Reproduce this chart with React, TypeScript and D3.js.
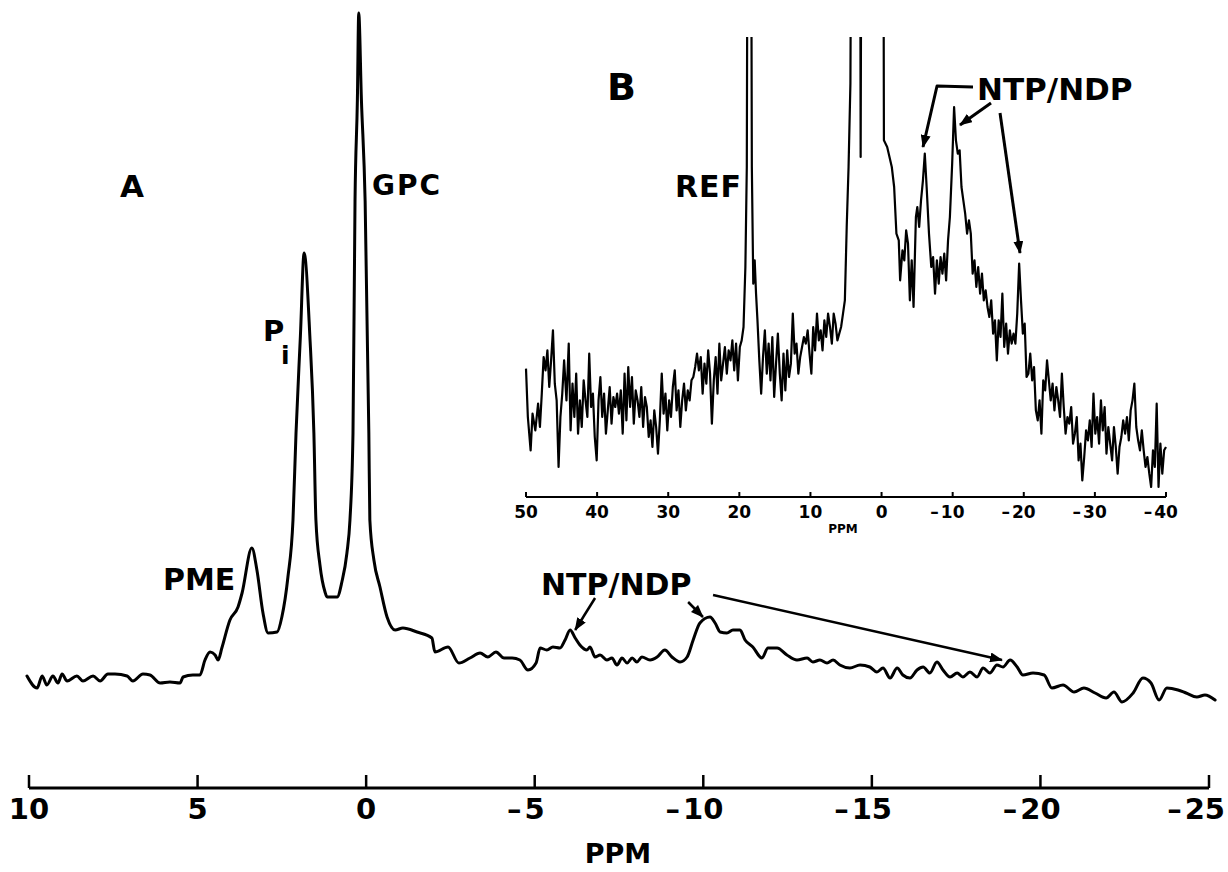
import React from "react";
import * as d3 from "d3";

// ---------- Spectrum A (main) : chemical shift (ppm) and intensity (a.u.) ----------
const mainPpm = [
  10.06, 9.76, 9.61, 9.47, 9.29, 9.14, 9.02, 8.87, 8.58, 8.40, 8.10, 7.89, 7.66, 7.45, 7.09, 6.92, 6.62, 6.41, 6.11, 5.82,
  5.52, 5.43, 5.14, 4.93, 4.78, 4.63, 4.48, 4.39, 4.28, 4.04, 3.80, 3.68, 3.39, 3.24, 3.06, 2.91, 2.64, 2.50, 2.32, 2.17,
  2.08, 1.95, 1.84, 1.67, 1.55, 1.49, 1.37, 1.22, 1.16, 0.86, 0.72, 0.57, 0.48, 0.39, 0.33, 0.26, 0.22, 0.14, 0.03, -0.08,
  -0.11, -0.23, -0.41, -0.62, -0.86, -1.09, -1.51, -1.95, -2.04, -2.43, -2.75, -3.08, -3.38, -3.61, -3.85, -4.09, -4.33, -4.56, -4.80, -5.04,
  -5.16, -5.36, -5.54, -5.75, -5.90, -6.05, -6.20, -6.34, -6.55, -6.64, -6.79, -6.94, -7.14, -7.29, -7.44, -7.59, -7.74, -7.89, -8.03, -8.18,
  -8.42, -8.63, -8.86, -9.07, -9.31, -9.52, -9.70, -9.90, -10.20, -10.35, -10.50, -10.70, -10.88, -11.09, -11.24, -11.47, -11.74, -11.92, -12.19, -12.48,
  -12.78, -13.08, -13.25, -13.46, -13.67, -13.85, -14.05, -14.35, -14.65, -14.94, -15.15, -15.33, -15.54, -15.75, -15.92, -16.13, -16.34, -16.52, -16.72, -16.93,
  -17.11, -17.32, -17.53, -17.70, -17.91, -18.12, -18.30, -18.50, -18.71, -18.89, -19.10, -19.31, -19.48, -19.78, -20.11, -20.34, -20.67, -21.00, -21.29, -21.62,
  -21.95, -22.18, -22.42, -22.75, -23.04, -23.28, -23.52, -23.75, -24.08, -24.32, -24.64, -24.88, -25.18,
];
const mainIntensity = [
  24, 12, 24, 15, 24, 17, 26, 19, 24, 19, 24, 19, 26, 26, 24, 19, 26, 25, 17, 18,
  17, 23, 25, 25, 40, 48, 45, 40, 52, 80, 93, 107, 152, 130, 87, 67, 68, 83, 123, 180,
  267, 364, 447, 364, 267, 180, 135, 108, 103, 103, 118, 147, 180, 267, 499, 600, 687, 600, 499, 267,
  180, 140, 113, 83, 70, 72, 68, 62, 48, 53, 37, 42, 47, 43, 48, 42, 42, 40, 30, 37,
  52, 50, 53, 52, 60, 70, 62, 55, 50, 53, 43, 45, 40, 42, 35, 42, 37, 42, 38, 43,
  40, 43, 50, 43, 38, 43, 60, 77, 83, 77, 68, 67, 70, 70, 60, 53, 42, 52, 52, 45,
  40, 42, 38, 40, 37, 40, 35, 32, 35, 33, 28, 32, 22, 32, 25, 22, 30, 33, 27, 38,
  30, 23, 27, 23, 28, 23, 32, 27, 35, 33, 40, 33, 25, 27, 25, 12, 15, 8, 12, 7,
  2, 8, -2, 7, 22, 17, 0, 12, 10, 7, 3, 5, 0,
];
const mainTicks = [10, 5, 0, -5, -10, -15, -20, -25];

// ---------- Spectrum B (inset) ----------
const insetPpm = [
  50.00, 49.74, 49.35, 49.08, 48.69, 48.30, 48.04, 47.78, 47.52, 47.25, 46.99, 46.73, 46.47, 46.21, 45.95, 45.69, 45.42, 45.16, 44.90, 44.64,
  44.31, 43.99, 43.73, 43.46, 43.20, 42.94, 42.68, 42.42, 42.16, 41.89, 41.63, 41.37, 41.11, 40.85, 40.59, 40.33, 40.06, 39.80, 39.54, 39.28,
  39.02, 38.76, 38.50, 38.23, 37.97, 37.71, 37.45, 37.19, 36.93, 36.67, 36.40, 36.14, 35.88, 35.62, 35.36, 35.10, 34.84, 34.57, 34.31, 34.05,
  33.79, 33.53, 33.27, 33.01, 32.74, 32.48, 32.22, 31.96, 31.70, 31.44, 31.18, 30.91, 30.65, 30.39, 30.13, 29.87, 29.61, 29.35, 29.08, 28.82,
  28.56, 28.30, 28.04, 27.78, 27.52, 27.25, 26.99, 26.73, 26.47, 26.21, 25.95, 25.69, 25.42, 25.16, 24.90, 24.64, 24.38, 24.12, 23.86, 23.59,
  23.33, 23.07, 22.81, 22.55, 22.29, 22.03, 21.76, 21.50, 21.24, 20.98, 20.72, 20.46, 20.20, 19.93, 19.67, 19.41, 19.15, 18.95, 18.76, 18.43,
  18.24, 18.04, 17.84, 17.65, 17.45, 17.19, 16.93, 16.67, 16.41, 16.14, 15.88, 15.62, 15.36, 15.10, 14.84, 14.58, 14.31, 14.05, 13.79, 13.53,
  13.27, 13.01, 12.75, 12.48, 12.22, 11.96, 11.70, 11.44, 11.18, 10.92, 10.65, 10.39, 10.13, 9.87, 9.61, 9.35, 9.08, 8.82, 8.56, 8.30,
  8.04, 7.78, 7.52, 7.25, 6.99, 6.73, 6.47, 6.21, 5.95, 5.69, 5.42, 5.16, 4.90, 4.64, 4.38, 4.12, 3.33, 3.07, 2.94, 2.75,
  2.55, -0.20, -0.33, -0.79, -1.44, -1.77, -2.09, -2.42, -2.61, -2.94, -3.20, -3.46, -3.72, -3.98, -4.24, -4.50, -4.83, -5.03, -5.29, -5.55,
  -5.82, -6.08, -6.34, -6.67, -6.99, -7.25, -7.52, -7.78, -8.04, -8.30, -8.56, -8.82, -9.08, -9.35, -9.61, -9.93, -10.20, -10.46, -10.72, -10.98,
  -11.24, -11.50, -11.76, -12.03, -12.29, -12.55, -12.81, -13.07, -13.33, -13.59, -13.86, -14.12, -14.38, -14.64, -14.90, -15.16, -15.42, -15.69, -15.95, -16.21,
  -16.47, -16.73, -16.99, -17.25, -17.52, -17.78, -18.04, -18.30, -18.56, -18.82, -19.08, -19.35, -19.61, -19.87, -20.13, -20.39, -20.65, -20.91, -21.18, -21.44,
  -21.70, -21.96, -22.22, -22.48, -22.74, -23.01, -23.27, -23.53, -23.79, -24.05, -24.31, -24.58, -24.84, -25.10, -25.36, -25.62, -25.88, -26.14, -26.40, -26.67,
  -26.93, -27.19, -27.45, -27.71, -27.97, -28.23, -28.50, -28.76, -29.02, -29.28, -29.54, -29.80, -30.06, -30.32, -30.59, -30.85, -31.11, -31.37, -31.63, -31.89,
  -32.15, -32.42, -32.68, -32.94, -33.20, -33.46, -33.72, -33.98, -34.25, -34.51, -34.77, -35.03, -35.29, -35.55, -35.82, -36.08, -36.34, -36.60, -36.86, -37.12,
  -37.38, -37.65, -37.91, -38.17, -38.43, -38.69, -38.95, -39.21, -39.48, -39.74, -40.00,
];
const insetIntensity = [
  385, 240, 140, 250, 200, 280, 210, 310, 420, 380, 440, 330, 410, 500, 340, 290, 90, 240, 310, 410,
  290, 460, 200, 340, 240, 370, 190, 290, 210, 350, 290, 240, 430, 270, 310, 180, 110, 290, 360, 240,
  310, 190, 260, 330, 220, 300, 270, 310, 250, 320, 190, 370, 230, 390, 270, 360, 220, 320, 290, 240,
  330, 210, 300, 270, 180, 230, 150, 260, 210, 130, 230, 370, 250, 310, 200, 290, 240, 330, 380, 260,
  320, 210, 290, 340, 260, 320, 290, 350, 360, 390, 430, 380, 420, 310, 400, 340, 440, 370, 220, 350,
  420, 310, 460, 350, 400, 450, 370, 440, 410, 470, 380, 460, 350, 450, 470, 510, 690, 990, 2600, 2600,
  990, 640, 710, 610, 530, 410, 310, 420, 500, 370, 460, 350, 480, 300, 400, 490, 370, 290, 430, 320,
  440, 360, 400, 550, 430, 460, 370, 420, 450, 480, 460, 500, 430, 370, 510, 440, 550, 470, 500, 440,
  530, 480, 550, 510, 460, 550, 520, 470, 490, 510, 550, 590, 810, 990, 1240, 2600, 2600, 2600, 1020, 2600,
  2600, 2600, 1070, 1050, 990, 930, 790, 770, 650, 740, 710, 800, 760, 590, 710, 570, 840, 870, 810, 890,
  950, 1030, 930, 790, 690, 720, 610, 710, 640, 720, 670, 730, 650, 770, 840, 1000, 1170, 1070, 1030, 1040,
  930, 890, 850, 790, 830, 790, 670, 710, 630, 690, 610, 670, 590, 620, 570, 540, 590, 490, 530, 410,
  530, 480, 610, 450, 520, 430, 500, 460, 490, 460, 550, 700, 590, 490, 520, 360, 370, 430, 350, 390,
  260, 230, 290, 190, 350, 320, 410, 350, 290, 340, 260, 330, 290, 240, 370, 270, 190, 240, 220, 270,
  160, 190, 240, 110, 160, 50, 120, 200, 170, 230, 150, 310, 190, 240, 160, 290, 200, 270, 130, 210,
  160, 110, 210, 150, 70, 150, 180, 230, 190, 240, 170, 260, 290, 340, 210, 170, 140, 200, 140, 90,
  120, 70, 30, 140, 90, 280, 30, 160, 70, 140, 150,
];
const insetTicks = [50, 40, 30, 20, 10, 0, -10, -20, -30, -40];

// annotation anchors in data coordinates [ppm, intensity]
const mainArrows = [
  { from: [-6.79, 102], to: [-6.2, 70] },
  { from: [-9.55, 98], to: [-9.99, 83] },
  { from: [-10.29, 105], to: [-18.86, 40] },
];
const insetArrows = [
  { pts: [[-12.86, 1230], [-7.8, 1233], [-5.83, 1050]] },
  { pts: [[-15.39, 1182], [-11.03, 1116]] },
  { pts: [[-16.66, 1152], [-19.47, 732]] },
];

const FONT = "'DejaVu Sans', 'Liberation Sans', sans-serif";

export default function App() {
  const xMain = d3.scaleLinear().domain([10, -25]).range([29, 1209]);
  const yMain = d3.scaleLinear().domain([0, 700]).range([700, 0]);
  const xIn = d3.scaleLinear().domain([50, -40]).range([526, 1166]);
  const yIn = d3.scaleLinear().domain([0, 1380]).range([497, 37]);

  const mainData = mainPpm.map((p, i) => [p, mainIntensity[i]] as [number, number]);
  const inData = insetPpm.map((p, i) => [p, insetIntensity[i]] as [number, number]);

  const mainLine = d3
    .line<[number, number]>()
    .x((d) => xMain(d[0]))
    .y((d) => yMain(d[1]))
    .curve(d3.curveMonotoneX);
  const inLine = d3
    .line<[number, number]>()
    .x((d) => xIn(d[0]))
    .y((d) => yIn(d[1]));

  const mainAxisY = 788;
  const inAxisY = 497;

  const tickLabel = (
    v: number,
    x: number,
    y: number,
    fs: number,
    gap: number,
    maxRight: number,
    key: string
  ) => {
    const digits = String(Math.abs(v));
    const w = digits.length * 0.696 * fs;
    const cx = Math.min(x, maxRight - w / 2);
    return (
      <g key={key}>
        <text x={cx} y={y} textAnchor="middle" fontSize={fs} fontFamily={FONT} fontWeight="bold">
          {digits}
        </text>
        {v < 0 && (
          <text x={cx - w / 2 - gap} y={y} textAnchor="end" fontSize={fs} fontFamily={FONT} fontWeight="bold">
            {"\u2013"}
          </text>
        )}
      </g>
    );
  };

  return (
    <svg
      width={1228}
      height={872}
      viewBox="0 0 1228 872"
      style={{ position: "absolute", left: 0, top: 0, background: "#fff" }}
    >
      <defs>
        <marker
          id="ah"
          markerUnits="userSpaceOnUse"
          markerWidth={14}
          markerHeight={10}
          refX={12}
          refY={5}
          orient="auto"
        >
          <path d="M0,0 L13,5 L0,10 Z" fill="#000" />
        </marker>
        <clipPath id="inClip">
          <rect x={518} y={37} width={660} height={462} />
        </clipPath>
      </defs>
      <rect x={0} y={0} width={1228} height={872} fill="#fff" />

      {/* ---------- main spectrum A ---------- */}
      <path
        d={mainLine(mainData) || ""}
        fill="none"
        stroke="#000"
        strokeWidth={3}
        strokeLinejoin="round"
        strokeLinecap="round"
      />

      <line x1={xMain(10)} x2={xMain(-25)} y1={mainAxisY} y2={mainAxisY} stroke="#000" strokeWidth={3} />
      {mainTicks.map((t) => (
        <line
          key={"mt" + t}
          x1={xMain(t)}
          x2={xMain(t)}
          y1={mainAxisY}
          y2={mainAxisY - 13}
          stroke="#000"
          strokeWidth={2.5}
        />
      ))}
      {mainTicks.map((t) => tickLabel(t, xMain(t), 819, 29, 3, 1225, "ml" + t))}
      <text x={618} y={863} textAnchor="middle" fontSize={27} fontFamily={FONT} fontWeight="bold">
        PPM
      </text>

      <text x={120} y={197} fontSize={31} fontFamily={FONT} fontWeight="bold">A</text>
      <text x={372} y={195} fontSize={28} fontFamily={FONT} fontWeight="bold" letterSpacing={2}>GPC</text>
      <text x={263} y={341} fontSize={29} fontFamily={FONT} fontWeight="bold">P</text>
      <text x={281} y={364} fontSize={25} fontFamily={FONT} fontWeight="bold">i</text>
      <text x={163} y={590} fontSize={30} fontFamily={FONT} fontWeight="bold">PME</text>
      <text x={541} y={595} fontSize={30} fontFamily={FONT} fontWeight="bold">NTP/NDP</text>

      {mainArrows.map((a, i) => (
        <line
          key={"ma" + i}
          x1={xMain(a.from[0])}
          y1={yMain(a.from[1])}
          x2={xMain(a.to[0])}
          y2={yMain(a.to[1])}
          stroke="#000"
          strokeWidth={2.5}
          markerEnd="url(#ah)"
        />
      ))}

      {/* ---------- inset spectrum B ---------- */}
      <g clipPath="url(#inClip)">
        <path
          d={inLine(inData) || ""}
          fill="none"
          stroke="#000"
          strokeWidth={2.2}
          strokeLinejoin="round"
        />
      </g>
      <line x1={xIn(50)} x2={xIn(-40)} y1={inAxisY} y2={inAxisY} stroke="#000" strokeWidth={2} />
      {insetTicks.map((t) => (
        <line
          key={"it" + t}
          x1={xIn(t)}
          x2={xIn(t)}
          y1={inAxisY}
          y2={inAxisY - 5}
          stroke="#000"
          strokeWidth={2}
        />
      ))}
      {insetTicks.map((t) => tickLabel(t, xIn(t), 518, 17, 2, 1228, "il" + t))}
      <text x={843} y={533} textAnchor="middle" fontSize={12} fontFamily={FONT} fontWeight="bold">
        PPM
      </text>

      <text x={607} y={100} fontSize={38} fontFamily={FONT} fontWeight="bold">B</text>
      <text x={675} y={197} fontSize={30} fontFamily={FONT} fontWeight="bold" letterSpacing={1}>REF</text>
      <text x={977} y={100} fontSize={31} fontFamily={FONT} fontWeight="bold">NTP/NDP</text>

      {insetArrows.map((a, i) => (
        <path
          key={"ia" + i}
          d={d3.line()(a.pts.map((p) => [xIn(p[0]), yIn(p[1])] as [number, number])) || ""}
          fill="none"
          stroke="#000"
          strokeWidth={3}
          strokeLinejoin="round"
          markerEnd="url(#ah)"
        />
      ))}
    </svg>
  );
}
